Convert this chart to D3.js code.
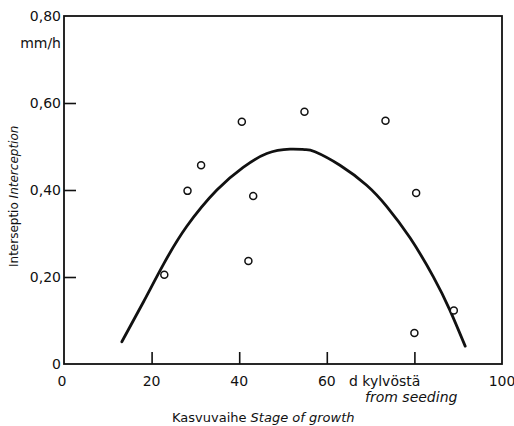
<!DOCTYPE html>
<html>
<head>
<meta charset="utf-8">
<script src="https://cdn.jsdelivr.net/npm/d3@7"></script>
<style>
  html, body { margin: 0; padding: 0; background: #fff; }
  svg { display: block; }
  text { font-family: "DejaVu Sans", "Liberation Sans", sans-serif; fill: #111; }
</style>
</head>
<body>
<svg id="chart" width="514" height="426"></svg>
<script>
// Observed interception by stage of growth (days from seeding)
const obsDays   = [22.9, 28.2, 31.3, 40.6, 42.1, 43.2, 54.9, 73.4, 80.0, 80.4, 89.0];
const obsInterc = [0.205, 0.398, 0.457, 0.557, 0.237, 0.386, 0.580, 0.559, 0.071, 0.393, 0.123];

// Fitted curve
const fitDays   = [13.2, 18.1, 22.7, 28.0, 34.9, 40.9, 46.3, 51.6, 55.0, 57.3, 63.0, 69.1, 73.7, 79.0, 84.3, 88.1, 91.6];
const fitInterc = [0.051, 0.142, 0.229, 0.316, 0.400, 0.452, 0.484, 0.494, 0.493, 0.488, 0.457, 0.411, 0.362, 0.290, 0.201, 0.124, 0.041];

// Axis ticks and labels
const xTicks = [0, 20, 40, 60, 80, 100];
const xTickLabels = ["0", "20", "40", "60", "", "100"];
const yTicks = [0, 0.2, 0.4, 0.6, 0.8];
const yTickLabels = ["0", "0,20", "0,40", "0,60", "0,80"];

const svg = d3.select("#chart");
const x = d3.scaleLinear().domain([0, 100]).range([64, 502]);
const y = d3.scaleLinear().domain([0, 0.8]).range([364, 16]);

const ink = "#111";

// Frame
svg.append("rect")
  .attr("x", x(0)).attr("y", y(0.8))
  .attr("width", x(100) - x(0)).attr("height", y(0) - y(0.8))
  .attr("fill", "none").attr("stroke", ink).attr("stroke-width", 1.8);

// Bottom axis: inward ticks
const xAxis = d3.axisBottom(x)
  .tickValues(xTicks.filter(d => d > 0 && d < 100))
  .tickSize(-12)
  .tickFormat("");
const gx = svg.append("g").attr("transform", `translate(0,${y(0)})`).call(xAxis);
gx.select(".domain").remove();
gx.selectAll("line").attr("stroke", ink).attr("stroke-width", 1.6);

svg.append("g").selectAll("text")
  .data(xTicks.map((d, i) => ({ v: d, t: xTickLabels[i] })).filter(d => d.t !== ""))
  .join("text")
  .attr("x", d => x(d.v) + (d.v === 0 ? -2 : 0))
  .attr("y", 386)
  .attr("text-anchor", "middle")
  .attr("font-size", 14)
  .text(d => d.t);

// Unit label in place of the 80 tick label
svg.append("text").attr("x", 349).attr("y", 386).attr("font-size", 14).text("d kylvöstä");
svg.append("text").attr("x", 365).attr("y", 402).attr("font-size", 14)
  .attr("font-style", "italic").text("from seeding");

// Left axis: inward ticks
const yAxis = d3.axisLeft(y)
  .tickValues(yTicks.filter(d => d > 0 && d < 0.8))
  .tickSize(-12)
  .tickFormat("");
const gy = svg.append("g").attr("transform", `translate(${x(0)},0)`).call(yAxis);
gy.select(".domain").remove();
gy.selectAll("line").attr("stroke", ink).attr("stroke-width", 1.6);

svg.append("g").selectAll("text")
  .data(yTicks.map((d, i) => ({ v: d, t: yTickLabels[i] })))
  .join("text")
  .attr("x", 61)
  .attr("y", d => y(d.v))
  .attr("dy", "0.36em")
  .attr("text-anchor", "end")
  .attr("font-size", 14)
  .text(d => d.t);

svg.append("text").attr("x", 61).attr("y", 48).attr("text-anchor", "end")
  .attr("font-size", 14).text("mm/h");

// Axis titles
const xt = svg.append("text").attr("x", 172).attr("y", 422).attr("font-size", 13);
xt.append("tspan").text("Kasvuvaihe ");
xt.append("tspan").attr("font-style", "italic").text("Stage of growth");

const yt = svg.append("text")
  .attr("transform", "translate(18,267) rotate(-90)")
  .attr("font-size", 12);
yt.append("tspan").text("Interseptio ");
yt.append("tspan").attr("font-style", "italic").text("Interception");

// Fitted curve
const fit = fitDays.map((d, i) => [d, fitInterc[i]]);
svg.append("path")
  .datum(fit)
  .attr("fill", "none")
  .attr("stroke", ink)
  .attr("stroke-width", 2.8)
  .attr("stroke-linecap", "round")
  .attr("d", d3.line().x(d => x(d[0])).y(d => y(d[1])).curve(d3.curveNatural));

// Observations
svg.append("g").selectAll("circle")
  .data(obsDays.map((d, i) => [d, obsInterc[i]]))
  .join("circle")
  .attr("cx", d => x(d[0]))
  .attr("cy", d => y(d[1]))
  .attr("r", 3.5)
  .attr("fill", "#fff")
  .attr("stroke", ink)
  .attr("stroke-width", 1.5);
</script>
</body>
</html>
